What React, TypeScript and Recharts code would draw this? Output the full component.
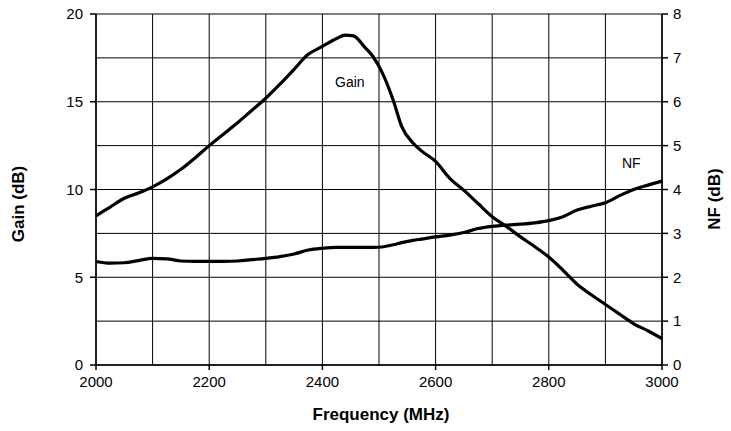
import { LineChart, Line, XAxis, YAxis, CartesianGrid } from 'recharts'

// Frequency sweep in MHz
const freqs = [
  2000, 2025, 2050, 2075, 2100, 2125, 2150, 2175, 2200, 2225, 2250, 2275, 2300, 2325,
  2350, 2375, 2400, 2425, 2440, 2455, 2475, 2490, 2505, 2525, 2540, 2560, 2575, 2600,
  2625, 2650, 2675, 2700, 2725, 2750, 2775, 2800, 2825, 2850, 2875, 2900, 2925, 2950,
  2975, 3000,
]

// Gain in dB (left axis)
const gain = [
  8.5, 9.0, 9.5, 9.8, 10.15, 10.6, 11.15, 11.8, 12.5, 13.15, 13.8, 14.5, 15.2, 16.0,
  16.85, 17.7, 18.15, 18.6, 18.8, 18.75, 18.1, 17.55, 16.7, 15.1, 13.6, 12.65, 12.2, 11.6,
  10.64, 9.95, 9.2, 8.45, 7.9, 7.3, 6.75, 6.15, 5.4, 4.6, 4.0, 3.45, 2.9, 2.35,
  1.95, 1.5,
]

// Noise figure in dB (right axis)
const nf = [
  2.36, 2.32, 2.33, 2.38, 2.43, 2.42, 2.37, 2.36, 2.36, 2.36, 2.37, 2.4, 2.43, 2.47,
  2.53, 2.62, 2.66, 2.68, 2.68, 2.68, 2.68, 2.68, 2.69, 2.74, 2.79, 2.84, 2.87, 2.92,
  2.96, 3.02, 3.11, 3.16, 3.19, 3.21, 3.24, 3.29, 3.38, 3.53, 3.62, 3.7, 3.86, 4.0,
  4.1, 4.19,
]

const freqTicks = [2000, 2200, 2400, 2600, 2800, 3000]
const gainTicks = [0, 5, 10, 15, 20]
const nfTicks = [0, 1, 2, 3, 4, 5, 6, 7, 8]
const freqGrid = [2000, 2100, 2200, 2300, 2400, 2500, 2600, 2700, 2800, 2900, 3000]
const gainGrid = [0, 2.5, 5, 7.5, 10, 12.5, 15, 17.5, 20]

const data = freqs.map((f, i) => ({ freq: f, gain: gain[i], nf: nf[i] }))

const FONT = '"Liberation Sans", Arial, sans-serif'
const tickStyle = { fill: '#000', fontSize: 15, fontFamily: FONT }
const titleStyle = { fill: '#000', fontSize: 17, fontWeight: 700, fontFamily: FONT }

export default function App() {
  return (
    <div style={{ position: 'absolute', left: 0, top: 0, width: 731, height: 431, background: '#fff' }}>
      <LineChart width={731} height={431} data={data} margin={{ top: 14, right: 0, bottom: 0, left: 0 }}>
        <CartesianGrid
          yAxisId="gain"
          stroke="#000"
          strokeWidth={1}
          syncWithTicks={false}
          verticalValues={freqGrid}
          horizontalValues={gainGrid}
        />
        <XAxis
          type="number"
          dataKey="freq"
          domain={[2000, 3000]}
          ticks={freqTicks}
          height={66}
          tickSize={5}
          tickMargin={6}
          tick={tickStyle}
          axisLine={{ stroke: '#000', strokeWidth: 1.5 }}
          tickLine={{ stroke: '#000', strokeWidth: 1.5 }}
        />
        <YAxis
          yAxisId="gain"
          domain={[0, 20]}
          ticks={gainTicks}
          width={96}
          tickSize={6}
          tickMargin={7}
          tick={tickStyle}
          axisLine={{ stroke: '#000', strokeWidth: 1.5 }}
          tickLine={{ stroke: '#000', strokeWidth: 1.5 }}
        />
        <YAxis
          yAxisId="nf"
          orientation="right"
          domain={[0, 8]}
          ticks={nfTicks}
          width={69}
          tickSize={6}
          tickMargin={5}
          tick={tickStyle}
          axisLine={{ stroke: '#000', strokeWidth: 1.5 }}
          tickLine={{ stroke: '#000', strokeWidth: 1.5 }}
        />
        <Line
          yAxisId="gain"
          type="monotone"
          dataKey="gain"
          stroke="#000"
          strokeWidth={3.2}
          dot={false}
          isAnimationActive={false}
        />
        <Line
          yAxisId="nf"
          type="monotone"
          dataKey="nf"
          stroke="#000"
          strokeWidth={3.2}
          dot={false}
          isAnimationActive={false}
        />

        {/* series annotations */}
        <text x={335} y={87} fontSize={14} fontFamily={FONT} fill="#000">Gain</text>
        <text x={622} y={168} fontSize={14} fontFamily={FONT} fill="#000">NF</text>

        {/* axis titles */}
        <text x={381} y={420} textAnchor="middle" style={titleStyle}>Frequency (MHz)</text>
        <text x={0} y={0} textAnchor="middle" transform="translate(24 204) rotate(-90)" style={titleStyle}>Gain (dB)</text>
        <text x={0} y={0} textAnchor="middle" transform="translate(720 199) rotate(-90)" style={titleStyle}>NF (dB)</text>
      </LineChart>
    </div>
  )
}
